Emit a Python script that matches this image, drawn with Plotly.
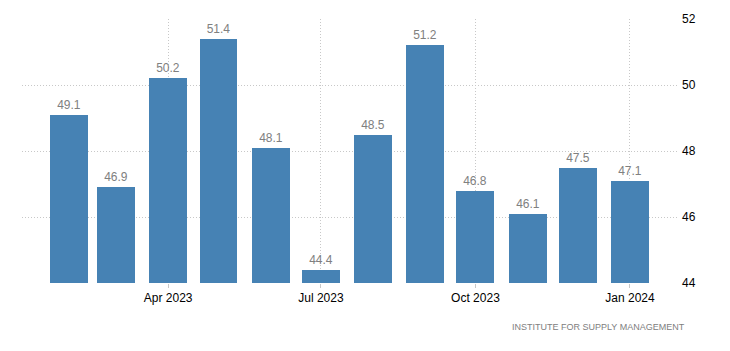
import plotly.graph_objects as go

months = ["2023-02-01", "2023-03-01", "2023-04-01", "2023-05-01", "2023-06-01", "2023-07-01",
          "2023-08-01", "2023-09-01", "2023-10-01", "2023-11-01", "2023-12-01", "2024-01-01"]
values = [49.1, 46.9, 50.2, 51.4, 48.1, 44.4, 48.5, 51.2, 46.8, 46.1, 47.5, 47.1]
tick_dates = ["2023-04-01", "2023-07-01", "2023-10-01", "2024-01-01"]
tick_labels = ["Apr 2023", "Jul 2023", "Oct 2023", "Jan 2024"]
y_ticks = [44, 46, 48, 50, 52]
source = "INSTITUTE FOR SUPPLY MANAGEMENT"

DAY = 86400000
fig = go.Figure(go.Bar(
    x=months, y=values,
    width=[22.6 * DAY] * len(values),
    marker=dict(color="#4682B4", line=dict(width=0)),
    text=[f"{v:.1f}" for v in values],
    textposition="outside",
    textfont=dict(color="#808080", size=12, family="Liberation Sans, Arial"),
    cliponaxis=False,
    hoverinfo="x+y",
))

fig.update_layout(
    width=730, height=351,
    margin=dict(l=22, r=53, t=19, b=68),
    paper_bgcolor="white", plot_bgcolor="white",
    font=dict(family="Liberation Sans, Arial", size=12, color="#000"),
    showlegend=False,
    bargap=0,
    xaxis=dict(
        type="date",
        range=["2023-01-04", "2024-01-29"],
        tickvals=tick_dates, ticktext=tick_labels,
        showgrid=True, gridcolor="#c8c8c8", griddash="1px,2px", gridwidth=1,
        ticks="outside", ticklen=4, tickcolor="#c8c8c8",
        showline=False, zeroline=False,
        tickfont=dict(size=12, color="#000"),
    ),
    yaxis=dict(
        side="right",
        range=[44, 52],
        tickvals=y_ticks,
        showgrid=True, gridcolor="#c8c8c8", griddash="1px,2px", gridwidth=1,
        showline=False, zeroline=False,
        ticks="", ticklabelstandoff=4,
        tickfont=dict(size=12, color="#000"),
    ),
    annotations=[dict(
        text=source, xref="paper", yref="paper",
        x=1.015, y=-0.14, xanchor="right", yanchor="top",
        showarrow=False, font=dict(size=9, color="#808080"),
    )],
)

fig.write_html("out.html")
